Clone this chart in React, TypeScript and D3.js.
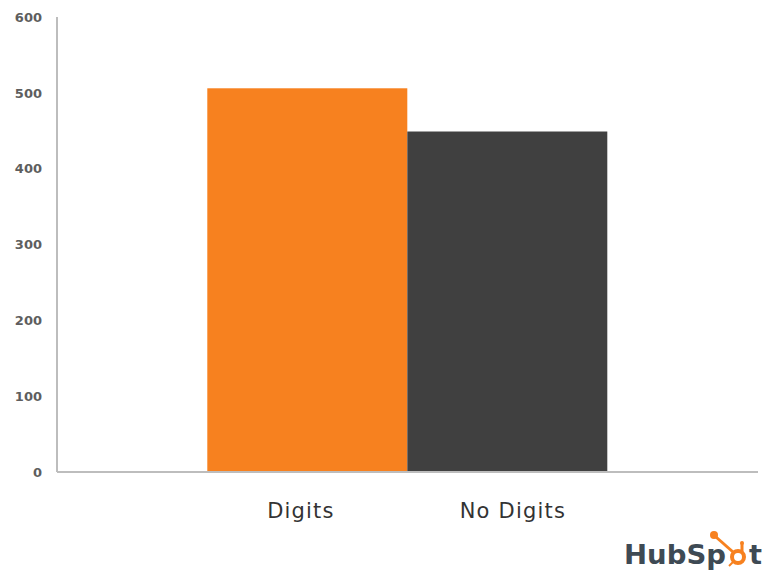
import React from "react";
import * as d3 from "d3";

const categories = ["Digits", "No Digits"];
const values = [506, 449];
const colors = ["#F7811F", "#404040"];
const yTicks = [0, 100, 200, 300, 400, 500, 600];
const labelOffsets = [-7, 5];

export default function App() {
  const W = 771, H = 581;
  const x0 = 57, x1 = 758;
  const y = d3.scaleLinear().domain([0, 600]).range([472, 17]);
  const xb = d3.scaleBand().domain(categories).range([207.3, 607.3]).padding(0);
  const orange = "#F7811F";
  return (
    <svg width={W} height={H} style={{ position: "absolute", left: 0, top: 0, background: "#fff" }}>
      {categories.map((c, i) => (
        <rect key={c} x={xb(c)} y={y(values[i])} width={xb.bandwidth()} height={y(0) - y(values[i])} fill={colors[i]} />
      ))}
      <line x1={x0} y1={y(600)} x2={x0} y2={y(0)} stroke="#bdbdbd" strokeWidth={2} />
      <line x1={x0} y1={y(0)} x2={x1} y2={y(0)} stroke="#bdbdbd" strokeWidth={2} />
      {yTicks.map((t) => (
        <text key={t} x={42} y={y(t)} dy="0.36em" textAnchor="end" fontFamily="DejaVu Sans, sans-serif" fontSize={13} fontWeight="bold" fill="#5e5e5e">{t}</text>
      ))}
      {categories.map((c, i) => (
        <text key={c} x={xb(c)! + xb.bandwidth() / 2 + labelOffsets[i] + 0.6} y={518} textAnchor="middle" fontFamily="DejaVu Sans, sans-serif" fontSize={21} letterSpacing={1.2} fill="#333">{c}</text>
      ))}
      <g>
        <text x={624} y={564} fontFamily="DejaVu Sans, sans-serif" fontSize={27} fontWeight="bold" fill="#3e4a54" textLength={102} lengthAdjust="spacingAndGlyphs">HubSp</text>
        <text x={749} y={564} fontFamily="DejaVu Sans, sans-serif" fontSize={27} fontWeight="bold" fill="#3e4a54" textLength={13} lengthAdjust="spacingAndGlyphs">t</text>
        <circle cx={738} cy={557} r={6} fill="none" stroke={orange} strokeWidth={4} />
        <line x1={733} y1={552} x2={716} y2={537} stroke={orange} strokeWidth={3} />
        <circle cx={714} cy={535} r={4} fill={orange} />
        <line x1={742} y1={551} x2={742} y2={543} stroke={orange} strokeWidth={3} />
        <circle cx={742} cy={543} r={2} fill={orange} />
        <line x1={733} y1={562} x2={729} y2={566} stroke={orange} strokeWidth={2} />
      </g>
    </svg>
  );
}
